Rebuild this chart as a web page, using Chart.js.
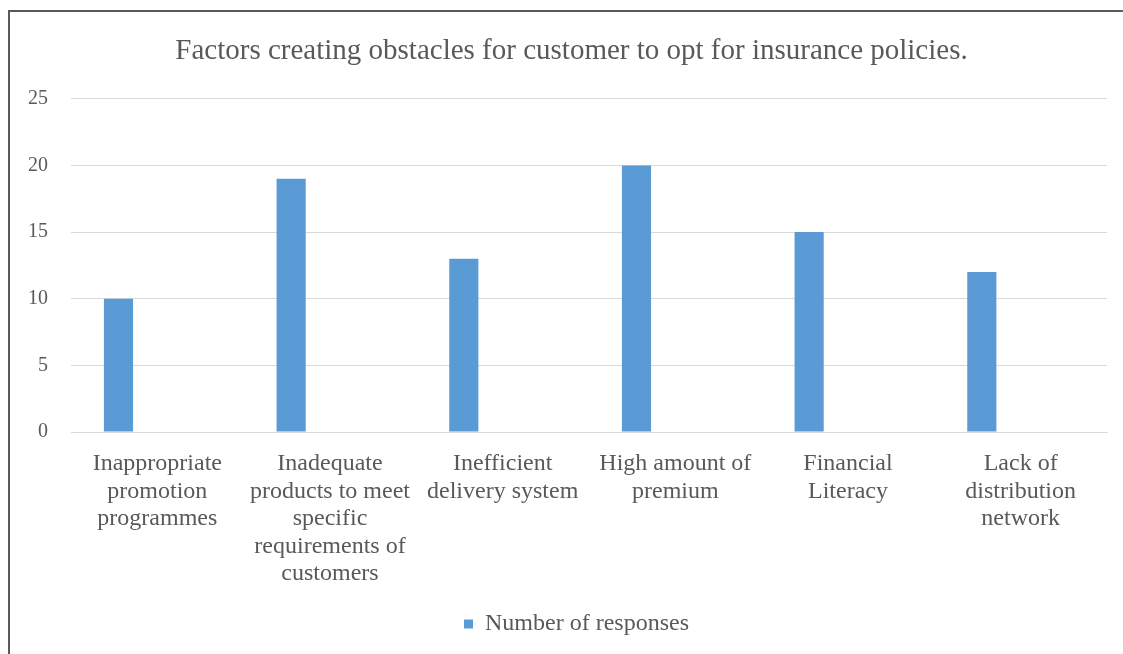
<!DOCTYPE html>
<html>
<head>
<meta charset="utf-8">
<script src="https://cdn.jsdelivr.net/npm/chart.js@4.4.1/dist/chart.umd.min.js"></script>
<style>
  html, body { margin: 0; padding: 0; background: #fff; }
  #frame {
    position: absolute; left: 8px; top: 10px;
    width: 1115px; height: 644px;
    border-left: 2px solid #5a5a5a; border-top: 2px solid #5a5a5a;
    box-sizing: border-box;
  }
  #chart { display: block; }
</style>
</head>
<body>
<div id="frame"><canvas id="chart" width="1113" height="642"></canvas></div>
<script>
// categories and responses
var categories = [
    ['Inappropriate', 'promotion', 'programmes'],
    ['Inadequate', 'products to meet', 'specific', 'requirements of', 'customers'],
    ['Inefficient', 'delivery system'],
    ['High amount of', 'premium'],
    ['Financial', 'Literacy'],
    ['Lack of', 'distribution', 'network']
];
var responses = [10, 19, 13, 20, 15, 12];
var yTicks = [0, 5, 10, 15, 20, 25];

var textColor = '#595959';
var gridColor = '#d9d9d9';
var serif = "'Liberation Serif', 'Times New Roman', serif";

// center title and legend over the plot rather than the whole canvas
var nudgeBoxes = {
    id: 'nudgeBoxes',
    afterLayout: function (chart) {
        [[chart.titleBlock, 13], [chart.legend, 18]].forEach(function (pair) {
            if (pair[0]) {
                pair[0].left += pair[1];
                pair[0].right += pair[1];
            }
        });
    }
};

var ctx = document.getElementById('chart').getContext('2d');
var chart = new Chart(ctx, {
    type: 'bar',
    data: {
        labels: categories,
        datasets: [{
            label: 'Number of responses',
            data: responses,
            backgroundColor: '#5b9bd5',
            categoryPercentage: 0.9,
            barPercentage: 0.375
        }, {
            // empty second slot so bars sit left of center
            label: '',
            data: [],
            backgroundColor: 'rgba(0,0,0,0)',
            categoryPercentage: 0.9,
            barPercentage: 0.375
        }]
    },
    plugins: [nudgeBoxes],
    options: {
        responsive: false,
        animation: false,
        layout: { padding: { left: 0, right: 16, top: 0, bottom: 8 } },
        plugins: {
            title: {
                display: true,
                text: 'Factors creating obstacles for customer to opt for insurance policies.',
                color: textColor,
                font: { family: serif, size: 29, weight: 'normal' },
                padding: { top: 22, bottom: 30 }
            },
            legend: {
                position: 'bottom',
                labels: {
                    color: textColor,
                    font: { family: serif, size: 24 },
                    boxWidth: 9,
                    boxHeight: 9,
                    padding: 8,
                    filter: function (item) { return item.text !== ''; }
                }
            },
            tooltip: { enabled: false }
        },
        scales: {
            x: {
                grid: { display: false },
                border: { display: true, color: gridColor, width: 1 },
                ticks: {
                    color: textColor,
                    font: { family: serif, size: 24, lineHeight: 1.15 },
                    padding: 10,
                    maxRotation: 0,
                    autoSkip: false
                },
                afterFit: function (scale) { scale.height = 172; }
            },
            y: {
                min: 0,
                max: 25,
                border: { display: false },
                grid: { color: gridColor, lineWidth: 1, drawTicks: false },
                afterBuildTicks: function (scale) {
                    scale.ticks = yTicks.map(function (v) { return { value: v }; });
                },
                ticks: {
                    color: textColor,
                    font: { family: serif, size: 20 },
                    padding: 23
                },
                afterFit: function (scale) { scale.width = 61; }
            }
        }
    }
});
</script>
</body>
</html>
